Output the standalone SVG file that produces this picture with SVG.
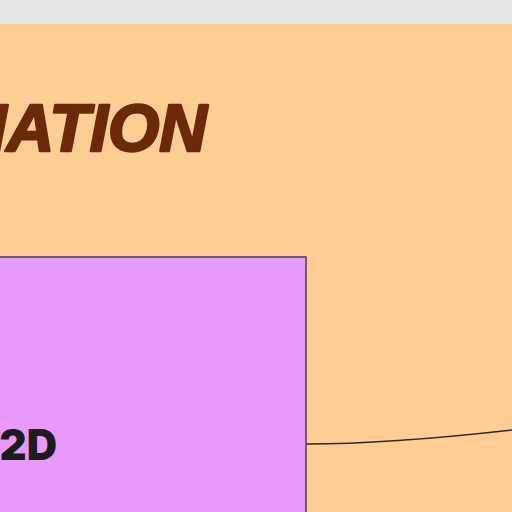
<svg xmlns="http://www.w3.org/2000/svg" width="512" height="512" viewBox="0 0 512 512">
<style>
.title{font-family:"Liberation Sans","DejaVu Sans",sans-serif;font-weight:bold;font-style:italic;font-size:66px;fill:#6b2a06;stroke:#6b2a06;stroke-width:2.5;stroke-linejoin:round}
.lbl{font-family:Inter,"Liberation Sans",sans-serif;font-weight:900;font-size:42px;fill:#1c1c1c}
.edge{fill:none;stroke:#2a2a2a;stroke-width:1.6}
</style>
<rect x="0" y="0" width="512" height="512" fill="#ffce94"/>
<rect x="0" y="0" width="512" height="24" fill="#e5e5e5"/>
<g id="title"><text class="title" x="207" y="151" text-anchor="end">NATION</text></g>
<g id="connectors"><path class="edge" d="M306,444 C380,444 450,437 512,430"/></g>
<g id="node-2d">
<rect x="-10" y="257" width="316" height="270" fill="#e899fc" stroke="#4a4a4a" stroke-width="1.6"/>
<text class="lbl" x="57" y="460" text-anchor="end">2D</text>
</g>
</svg>
